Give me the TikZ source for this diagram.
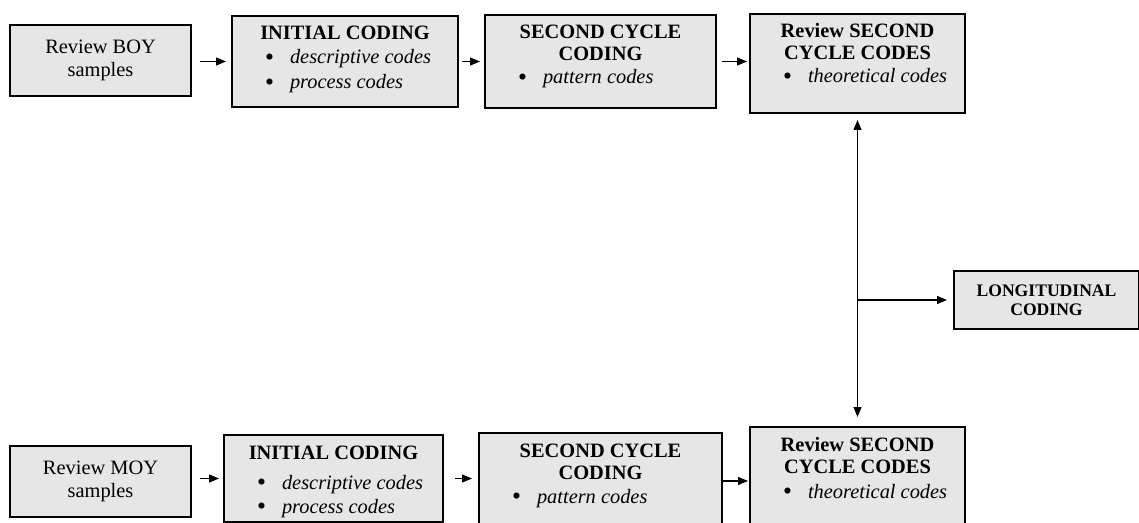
\documentclass[tikz,border=0pt]{standalone}
\usepackage{fontspec}
\setmainfont{Liberation Serif}
\usetikzlibrary{arrows.meta}
\definecolor{boxgray}{RGB}{230,230,230}
\newcommand{\topcell}[3]{\parbox[t][#2][t]{#1}{\fontsize{10.2}{11}\selectfont#3}}
\newcommand{\cellhead}[1]{{\centering\bfseries\rule{0pt}{12pt}#1\par}}
\newcommand{\cellitem}[2][1pt]{\vspace{#1}\leavevmode\hspace*{16.5pt}\makebox[12.5pt][l]{\raisebox{-0.8pt}[0pt][0pt]{\scalebox{1.25}{\textbullet}}}\textit{#2}\par}
\begin{document}
\begin{tikzpicture}[x=0.5pt,y=-0.5pt,>={Triangle[length=5pt,width=4pt]},
    arr/.style={line width=0.6pt},
    plain/.style={draw,fill=boxgray,line width=1pt,anchor=north west,align=center,
        minimum width=90.5pt,minimum height=35.5pt,font=\fontsize{10.2}{11.5}\selectfont},
    cell/.style={draw,fill=boxgray,line width=1pt,anchor=north west,inner sep=0pt}]
        \useasboundingbox (0,0) rectangle (1139,523);
        \clip (0,0) rectangle (1139,523);
        % BOY row
        \node[plain] (t1) at (9,24) {Review BOY\\samples};
        \node[cell] (t2) at (231,15) {\topcell{113pt}{45.5pt}{\cellhead{INITIAL CODING}\cellitem{descriptive codes}\cellitem[1.5pt]{process codes}}};
        \node[cell] (t3) at (484,14) {\topcell{115.5pt}{46.5pt}{\cellhead{SECOND CYCLE\\CODING}\cellitem[0.5pt]{pattern codes}}};
        \node[cell] (t4) at (749,13) {\topcell{107.5pt}{49.5pt}{\cellhead{Review SECOND\\CYCLE CODES}\cellitem[0.5pt]{theoretical codes}}};
        % MOY row
        \node[plain] (b1) at (9,445) {Review MOY\\samples};
        \node[cell] (b2) at (223,434) {\topcell{109.5pt}{43.5pt}{\cellhead{INITIAL CODING}\cellitem[4pt]{descriptive codes}\cellitem{process codes}}};
        \node[cell] (b3) at (478,432) {\topcell{121.5pt}{48pt}{\cellhead{SECOND CYCLE\\CODING}\cellitem{pattern codes}}};
        \node[cell] (b4) at (749,426) {\topcell{107.5pt}{52pt}{\cellhead{Review SECOND\\CYCLE CODES}\cellitem[1.5pt]{theoretical codes}}};
        % longitudinal
        \node[plain,minimum width=92.5pt,minimum height=29pt,font=\fontsize{8.8}{9.5}\selectfont\bfseries] (lc) at (953,270) {LONGITUDINAL\\CODING};
        \draw[->,arr,shorten <=4pt,shorten >=2.5pt] (t1.east |- t2.west) -- (t2.west);
        \draw[->,arr,shorten <=1.5pt,shorten >=2pt] (t2.east) -- (t2.east -| t3.west);
        \draw[->,arr,shorten <=2.5pt,shorten >=1pt] (t3.east) -- (t3.east -| t4.west);
        \draw[->,arr,shorten <=4pt,shorten >=2pt] (b1.east |- b2.west) -- (b2.west);
        \draw[->,arr,shorten <=5.5pt,shorten >=3pt] (b2.east) -- (b2.east -| b3.west);
        \draw[->,arr,shorten >=0.5pt] (b3.east) -- (b3.east -| b4.west);
        \draw[<->,arr,shorten <=3pt,shorten >=4.5pt] (t4.south) -- (b4.north);
        \draw[->,arr,shorten >=3pt] (t4.south |- lc.west) -- (lc.west);
\end{tikzpicture}
\end{document}
